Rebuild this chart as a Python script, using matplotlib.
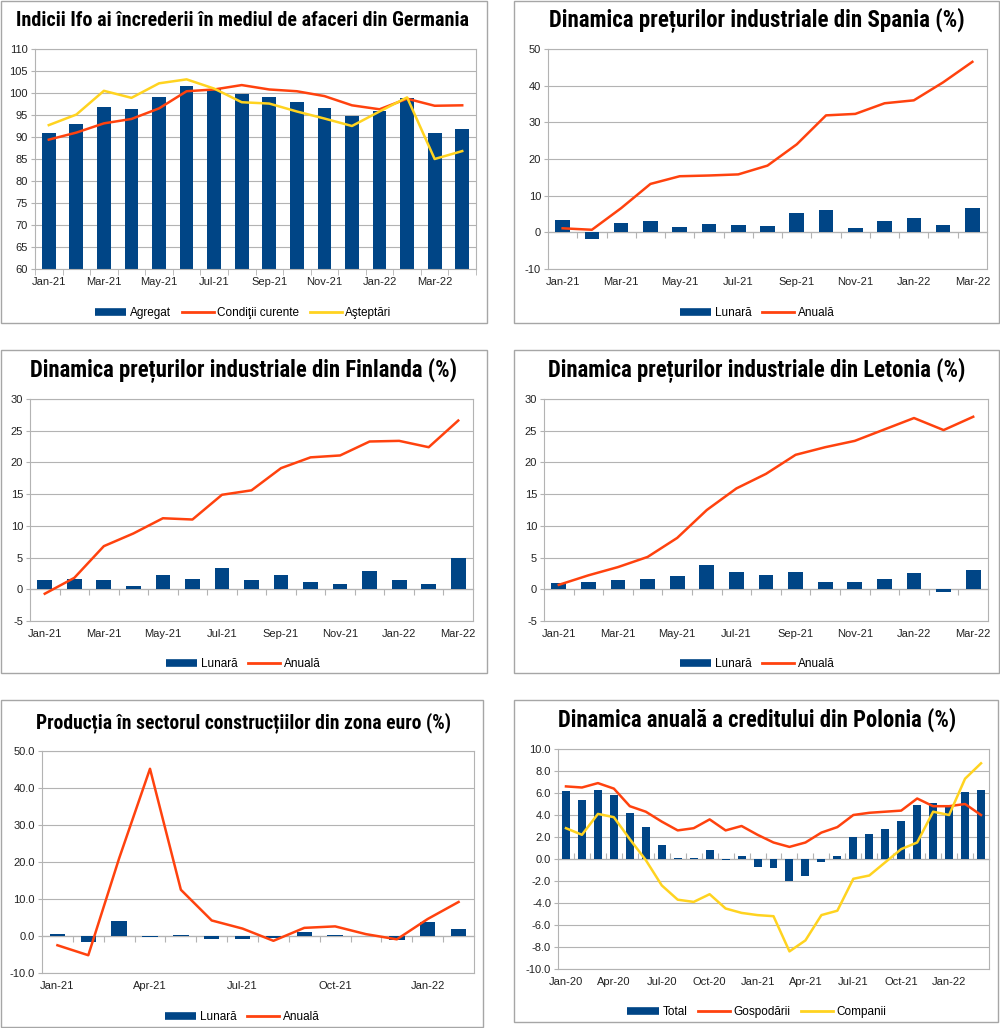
import matplotlib
matplotlib.use('Agg')
import matplotlib.pyplot as plt
from matplotlib.lines import Line2D
from matplotlib.patches import Rectangle
from matplotlib import font_manager as fm
import numpy as np

# ---------------- DATA ----------------
months_21 = ['Jan-21', 'Feb-21', 'Mar-21', 'Apr-21', 'May-21', 'Jun-21', 'Jul-21', 'Aug-21',
             'Sep-21', 'Oct-21', 'Nov-21', 'Dec-21', 'Jan-22', 'Feb-22', 'Mar-22', 'Apr-22']
months_20 = ['Jan-20', 'Feb-20', 'Mar-20', 'Apr-20', 'May-20', 'Jun-20', 'Jul-20', 'Aug-20',
             'Sep-20', 'Oct-20', 'Nov-20', 'Dec-20', 'Jan-21', 'Feb-21', 'Mar-21', 'Apr-21',
             'May-21', 'Jun-21', 'Jul-21', 'Aug-21', 'Sep-21', 'Oct-21', 'Nov-21', 'Dec-21',
             'Jan-22', 'Feb-22', 'Mar-22']

# Germany Ifo (Jan-21 .. Apr-22)
ifo_agregat = [90.9, 92.9, 96.8, 96.4, 99.2, 101.7, 100.8, 99.8, 99.2, 98.0, 96.6, 94.8, 96.0, 98.9, 90.8, 91.8]
ifo_conditii = [89.4, 91.0, 93.1, 94.1, 96.5, 100.4, 100.8, 101.8, 100.8, 100.4, 99.3, 97.2, 96.3, 98.7, 97.1, 97.2]
ifo_asteptari = [92.7, 95.1, 100.5, 98.9, 102.2, 103.1, 101.0, 97.9, 97.6, 95.8, 94.2, 92.5, 95.8, 99.0, 85.0, 86.8]

# Spain industrial prices (Jan-21 .. Mar-22)
es_lunara = [3.4, -1.7, 2.5, 3.0, 1.5, 2.2, 1.9, 1.7, 5.4, 6.0, 1.3, 3.2, 3.9, 2.0, 6.5]
es_anuala = [1.1, 0.7, 6.6, 13.2, 15.3, 15.5, 15.8, 18.2, 24.0, 31.9, 32.3, 35.2, 36.0, 40.9, 46.5]

# Finland industrial prices (Jan-21 .. Mar-22)
fi_lunara = [1.4, 1.7, 1.4, 0.5, 2.3, 1.6, 3.4, 1.4, 2.3, 1.2, 0.9, 2.9, 1.5, 0.9, 5.0]
fi_anuala = [-0.7, 1.8, 6.8, 8.8, 11.2, 11.0, 14.9, 15.6, 19.1, 20.8, 21.1, 23.3, 23.4, 22.4, 26.6]

# Latvia industrial prices (Jan-21 .. Mar-22)
lv_lunara = [1.0, 1.2, 1.4, 1.6, 2.1, 3.8, 2.8, 2.2, 2.8, 1.2, 1.2, 1.6, 2.5, -0.4, 3.0]
lv_anuala = [0.7, 2.2, 3.5, 5.1, 8.1, 12.5, 15.9, 18.2, 21.2, 22.4, 23.4, 25.2, 27.0, 25.1, 27.2]

# Euro-area construction (Jan-21 .. Feb-22)
ez_lunara = [0.5, -1.7, 4.0, -0.3, 0.2, -0.8, -0.7, -0.6, 1.1, 0.4, 0.0, -1.0, 3.8, 1.8]
ez_anuala = [-2.5, -5.2, 21.0, 45.2, 12.5, 4.2, 2.0, -1.3, 2.2, 2.6, 0.5, -0.9, 4.6, 9.2]

# Poland credit (Jan-20 .. Mar-22)
pl_total = [6.2, 5.4, 6.3, 5.8, 4.2, 2.9, 1.3, 0.05, 0.05, 0.8, -0.05, 0.25, -0.7, -0.8,
            -2.0, -1.5, -0.25, 0.3, 2.0, 2.3, 2.7, 3.5, 4.9, 5.1, 4.9, 6.1, 6.3]
pl_gosp = [6.6, 6.5, 6.9, 6.4, 4.8, 4.3, 3.4, 2.6, 2.8, 3.6, 2.6, 3.0, 2.2, 1.5,
           1.1, 1.5, 2.4, 2.9, 4.0, 4.2, 4.3, 4.4, 5.5, 4.8, 4.8, 5.0, 4.0]
pl_comp = [2.8, 2.2, 4.1, 3.8, 1.8, -0.1, -2.4, -3.7, -3.9, -3.2, -4.5, -4.9, -5.1, -5.2,
           -8.4, -7.4, -5.1, -4.7, -1.8, -1.5, -0.3, 0.9, 1.5, 4.3, 4.0, 7.3, 8.7]

titles = ['Indicii Ifo ai încrederii în mediul de afaceri din Germania',
          'Dinamica prețurilor industriale din Spania (%)',
          'Dinamica prețurilor industriale din Finlanda (%)',
          'Dinamica prețurilor industriale din Letonia (%)',
          'Producția în sectorul construcțiilor din zona euro (%)',
          'Dinamica anuală a creditului din Polonia (%)']

# ---------------- STYLE ----------------
BLUE = '#004586'
ORANGE = '#ff420e'
YELLOW = '#ffd320'
GRID = '#b3b3b3'
FRAME = '#a6a6a6'

avail = {f.name for f in fm.fontManager.ttflist}
def pick(cands, default):
    for c in cands:
        if c in avail:
            return c
    return default

BASE = pick(['Liberation Sans', 'Arial'], 'DejaVu Sans')
TITLEF = pick(['Liberation Sans Narrow', 'DejaVu Sans Condensed', 'Roboto Condensed'], 'DejaVu Sans')

plt.rcParams['font.family'] = [BASE, 'DejaVu Sans']
plt.rcParams['axes.unicode_minus'] = False

W, H = 1000, 1028
fig = plt.figure(figsize=(W / 100, H / 100), dpi=100)
fig.patch.set_facecolor('white')


def fx(px):
    return px / W


def fy(py):
    return 1 - py / H


def frame(x0, y0, x1, y1):
    fig.patches.append(Rectangle((fx(x0), fy(y1)), fx(x1 - x0), (y1 - y0) / H,
                                 transform=fig.transFigure, fill=False,
                                 edgecolor=FRAME, lw=1.0))


def make_axes(x0, y0, x1, y1):
    ax = fig.add_axes([fx(x0), fy(y1), fx(x1 - x0), (y1 - y0) / H])
    for s in ax.spines.values():
        s.set_color(GRID)
        s.set_linewidth(0.8)
    ax.set_axisbelow(True)
    ax.yaxis.grid(True, color=GRID, lw=0.8)
    ax.tick_params(axis='y', length=3, color=GRID, labelsize=8, pad=2, labelcolor='#222222')
    return ax


def setup_x(ax, labels, step, ylim, zero_axis):
    n = len(labels)
    ax.set_xlim(-0.5, n - 0.5)
    ax.set_ylim(*ylim)
    idx = list(range(0, n, step))
    ax.set_xticks(idx)
    ax.set_xticklabels([labels[i] for i in idx])
    ax.tick_params(axis='x', which='major', length=0, labelsize=8, pad=6, labelcolor='#222222')
    bounds = np.arange(-0.5, n + 0.5, 1.0)
    if zero_axis:
        frac = (0 - ylim[0]) / (ylim[1] - ylim[0])
        sec = ax.secondary_xaxis(frac)
        sec.set_xticks(bounds[1:-1])
        sec.tick_params(axis='x', length=4, color=GRID, labelbottom=False, labeltop=False,
                        direction='out')
        for s in sec.spines.values():
            s.set_color(GRID)
            s.set_linewidth(0.9)
    else:
        ax.set_xticks(bounds, minor=True)
        ax.tick_params(axis='x', which='minor', length=4, color=GRID)


def title(text, cx, cy, width):
    t = fig.text(fx(cx), fy(cy), text, ha='center', va='center', fontsize=16,
                 fontweight='bold', family=[TITLEF, 'DejaVu Sans'], color='black')
    fig.canvas.draw()
    w = t.get_window_extent(renderer=fig.canvas.get_renderer()).width
    t.set_fontsize(16 * width / w)


def legend(handles, labels, cx, cy):
    fig.legend(handles, labels, loc='center', bbox_to_anchor=(fx(cx), fy(cy)),
               ncol=len(handles), frameon=False, fontsize=8.5, handlelength=2.7,
               handletextpad=0.3, columnspacing=0.9, borderaxespad=0)


bar_h = lambda: Line2D([], [], color=BLUE, lw=5.5, solid_capstyle='butt')
line_h = lambda c: Line2D([], [], color=c, lw=2.0)

# ---------- Panel 1 : Germany Ifo ----------
frame(1, 1, 487, 323)
ax = make_axes(35, 49, 476, 269)
x = np.arange(len(ifo_agregat))
ax.bar(x, [v - 60 for v in ifo_agregat], bottom=60, width=0.5, color=BLUE, zorder=2)
ax.plot(x, ifo_conditii, color=ORANGE, lw=1.8, zorder=3)
ax.plot(x, ifo_asteptari, color=YELLOW, lw=1.8, zorder=4)
ax.set_yticks(np.arange(60, 111, 5))
setup_x(ax, months_21[:len(ifo_agregat)], 2, (60, 110), False)
title(titles[0], 243, 21, 453)
legend([bar_h(), line_h(ORANGE), line_h(YELLOW)], ['Agregat', 'Condiţii curente', 'Aşteptări'], 243, 313)

# ---------- Panel 2 : Spain ----------
frame(514, 1, 999, 323)
ax = make_axes(548, 49, 987, 269)
x = np.arange(len(es_lunara))
ax.bar(x, es_lunara, width=0.5, color=BLUE, zorder=2)
ax.plot(x, es_anuala, color=ORANGE, lw=1.8, zorder=4)
ax.set_yticks(np.arange(-10, 51, 10))
setup_x(ax, months_21[:len(es_lunara)], 2, (-10, 50), True)
title(titles[1], 757, 20, 415)
legend([bar_h(), line_h(ORANGE)], ['Lunară', 'Anuală'], 757, 313)

# ---------- Panel 3 : Finland ----------
frame(1, 350, 487, 673)
ax = make_axes(30, 399, 473, 621)
x = np.arange(len(fi_lunara))
ax.bar(x, fi_lunara, width=0.5, color=BLUE, zorder=2)
ax.plot(x, fi_anuala, color=ORANGE, lw=1.8, zorder=4)
ax.set_yticks(np.arange(-5, 31, 5))
setup_x(ax, months_21[:len(fi_lunara)], 2, (-5, 30), True)
title(titles[2], 244, 370, 429)
legend([bar_h(), line_h(ORANGE)], ['Lunară', 'Anuală'], 243, 664)

# ---------- Panel 4 : Latvia ----------
frame(514, 350, 999, 673)
ax = make_axes(544, 399, 988, 621)
x = np.arange(len(lv_lunara))
ax.bar(x, lv_lunara, width=0.5, color=BLUE, zorder=2)
ax.plot(x, lv_anuala, color=ORANGE, lw=1.8, zorder=4)
ax.set_yticks(np.arange(-5, 31, 5))
setup_x(ax, months_21[:len(lv_lunara)], 2, (-5, 30), True)
title(titles[3], 757, 370, 418)
legend([bar_h(), line_h(ORANGE)], ['Lunară', 'Anuală'], 757, 664)

# ---------- Panel 5 : Euro area construction ----------
frame(1, 700, 483, 1027)
ax = make_axes(42, 751, 474, 973)
x = np.arange(len(ez_lunara))
ax.bar(x, ez_lunara, width=0.5, color=BLUE, zorder=2)
ax.plot(x, ez_anuala, color=ORANGE, lw=1.8, zorder=4)
ax.set_yticks(np.arange(-10, 51, 10))
ax.yaxis.set_major_formatter(matplotlib.ticker.FormatStrFormatter('%.1f'))
setup_x(ax, months_21[:len(ez_lunara)], 3, (-10, 50), True)
title(titles[4], 243, 723, 415)
legend([bar_h(), line_h(ORANGE)], ['Lunară', 'Anuală'], 242, 1017)

# ---------- Panel 6 : Poland credit ----------
frame(514, 700, 998, 1022)
ax = make_axes(558, 749, 989, 969)
x = np.arange(len(pl_total))
ax.bar(x, pl_total, width=0.5, color=BLUE, zorder=2)
ax.plot(x, pl_gosp, color=ORANGE, lw=1.8, zorder=4)
ax.plot(x, pl_comp, color=YELLOW, lw=1.8, zorder=5)
ax.set_yticks(np.arange(-10, 11, 2))
ax.yaxis.set_major_formatter(matplotlib.ticker.FormatStrFormatter('%.1f'))
setup_x(ax, months_20, 3, (-10, 10), True)
title(titles[5], 757, 720, 397)
legend([bar_h(), line_h(ORANGE), line_h(YELLOW)], ['Total', 'Gospodării', 'Companii'], 757, 1012)

fig.savefig('out.png', dpi=100, facecolor='white')
